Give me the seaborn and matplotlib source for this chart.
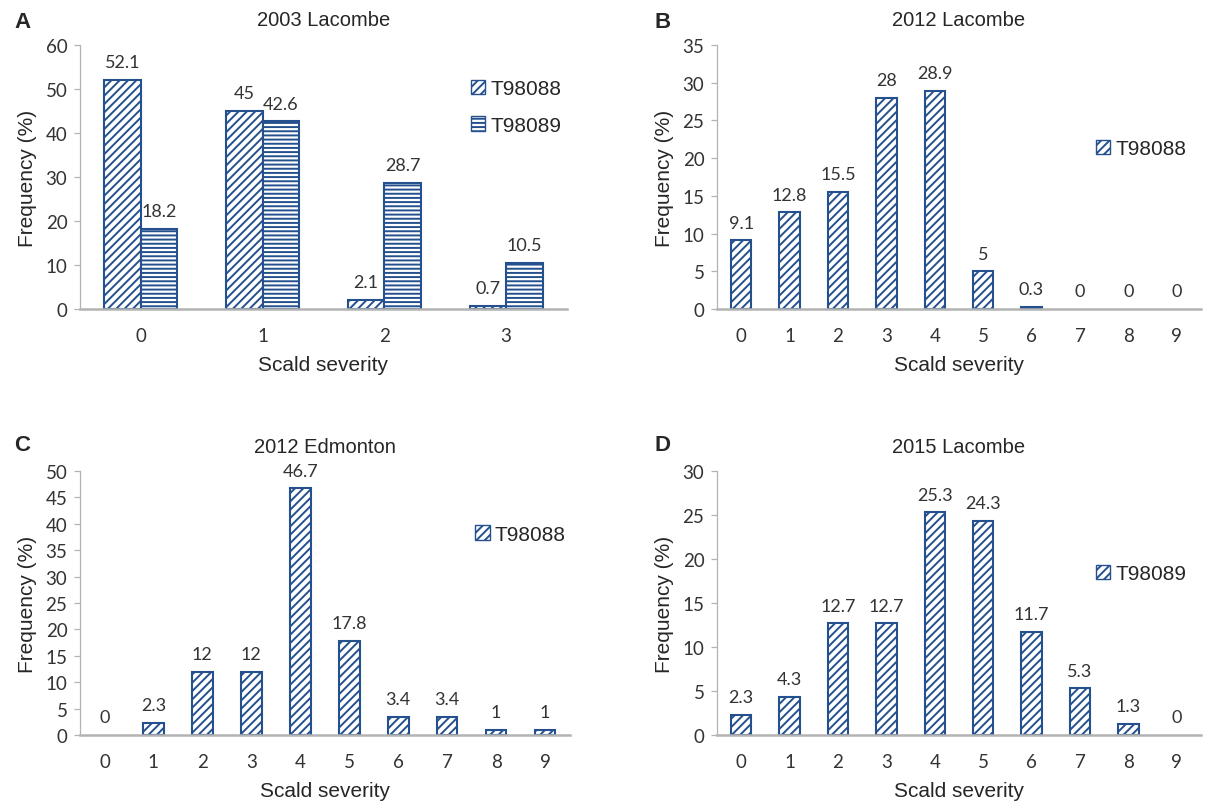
import pandas as pd
import matplotlib.pyplot as plt
import seaborn as sns
from matplotlib.patches import Patch

# data
sev_a = ['0', '1', '2', '3']
a_t98088 = [52.1, 45, 2.1, 0.7]
a_t98089 = [18.2, 42.6, 28.7, 10.5]

sev10 = [str(i) for i in range(10)]
b_t98088 = [9.1, 12.8, 15.5, 28, 28.9, 5, 0.3, 0, 0, 0]
c_t98088 = [0, 2.3, 12, 12, 46.7, 17.8, 3.4, 3.4, 1, 1]
d_t98089 = [2.3, 4.3, 12.7, 12.7, 25.3, 24.3, 11.7, 5.3, 1.3, 0]

blue = '#24508e'
grey = '#b3b3b3'

sns.set_style('white')
plt.rcParams['font.family'] = ['Liberation Sans', 'DejaVu Sans']
plt.rcParams['hatch.linewidth'] = 1.4

fig = plt.figure(figsize=(12.06, 8.03), dpi=100)
axA = fig.add_axes([0.0663, 0.614, 0.4038, 0.3288])
axB = fig.add_axes([0.5945, 0.614, 0.4013, 0.3288])
axC = fig.add_axes([0.0663, 0.0834, 0.406, 0.3288])
axD = fig.add_axes([0.5945, 0.0834, 0.4013, 0.3288])


def style_bars(bars, hatch):
    for p in bars:
        p.set_facecolor('white')
        p.set_edgecolor(blue)
        p.set_hatch(hatch)
        # zero bars sit on the axis line, no outline
        p.set_linewidth(1.5 if p.get_height() > 0 else 0)


def style_axis(ax, title, ymax, step, ncat):
    ax.set_ylim(0, ymax)
    ax.set_yticks(range(0, ymax + 1, step))
    ax.set_xlim(-0.5, ncat - 0.5)
    ax.set_title(title, fontsize=14.5, pad=14)
    ax.set_xlabel('Scald severity', fontsize=15, labelpad=8)
    ax.set_ylabel('Frequency (%)', fontsize=15, labelpad=6)
    for s in ['top', 'right']:
        ax.spines[s].set_visible(False)
    ax.spines['left'].set_color(grey)
    ax.spines['left'].set_linewidth(0.9)
    ax.spines['bottom'].set_color(grey)
    ax.spines['bottom'].set_linewidth(1.8)
    ax.tick_params(axis='y', direction='out', length=4, color=grey, width=0.9,
                   left=True, pad=5, labelsize=13.5, labelcolor='#333333')
    ax.tick_params(axis='x', length=0, pad=13, labelsize=13.5, labelcolor='#333333')
    for t in ax.get_xticklabels() + ax.get_yticklabels():
        t.set_family('Lato')


def label_bars(ax, cont):
    texts = ax.bar_label(cont, fmt='{:g}', padding=7, fontsize=13, color='#333333')
    for t in texts:
        t.set_family('Lato')


# A
dfA = pd.DataFrame({
    'severity': sev_a * 2,
    'freq': a_t98088 + a_t98089,
    'line': ['T98088'] * 4 + ['T98089'] * 4,
})
sns.barplot(data=dfA, x='severity', y='freq', hue='line', width=0.6,
            ax=axA, legend=False, errorbar=None)
style_bars(axA.containers[0], '////')
style_bars(axA.containers[1], '----')
for c in axA.containers:
    label_bars(axA, c)
style_axis(axA, '2003 Lacombe', 60, 10, 4)
axA.legend(handles=[Patch(facecolor='white', edgecolor=blue, hatch='////', label='T98088'),
                    Patch(facecolor='white', edgecolor=blue, hatch='----', label='T98089')],
           loc='center left', bbox_to_anchor=(0.785, 0.765), frameon=False,
           fontsize=15, handlelength=0.7, handleheight=0.7, handletextpad=0.25,
           labelspacing=0.85, borderaxespad=0)

# single-series panels
panels = [
    (axB, b_t98088, 'T98088', '2012 Lacombe', 35, 5, (0.765, 0.606)),
    (axC, c_t98088, 'T98088', '2012 Edmonton', 50, 5, (0.79, 0.761)),
    (axD, d_t98089, 'T98089', '2015 Lacombe', 30, 5, (0.765, 0.61)),
]
for ax, vals, name, title, ymax, step, anchor in panels:
    sns.barplot(x=sev10, y=vals, width=0.42, ax=ax, errorbar=None, color='white')
    style_bars(ax.containers[0], '////')
    label_bars(ax, ax.containers[0])
    style_axis(ax, title, ymax, step, 10)
    ax.legend(handles=[Patch(facecolor='white', edgecolor=blue, hatch='////', label=name)],
              loc='center left', bbox_to_anchor=anchor, frameon=False,
              fontsize=15, handlelength=0.7, handleheight=0.7, handletextpad=0.25,
              borderaxespad=0)

# panel letters
for letter, x, y in [('A', 0.012, 0.972), ('B', 0.543, 0.972),
                     ('C', 0.012, 0.445), ('D', 0.543, 0.445)]:
    fig.text(x, y, letter, fontsize=16, fontweight='bold', va='center')

fig.savefig('out.png', dpi=100)
